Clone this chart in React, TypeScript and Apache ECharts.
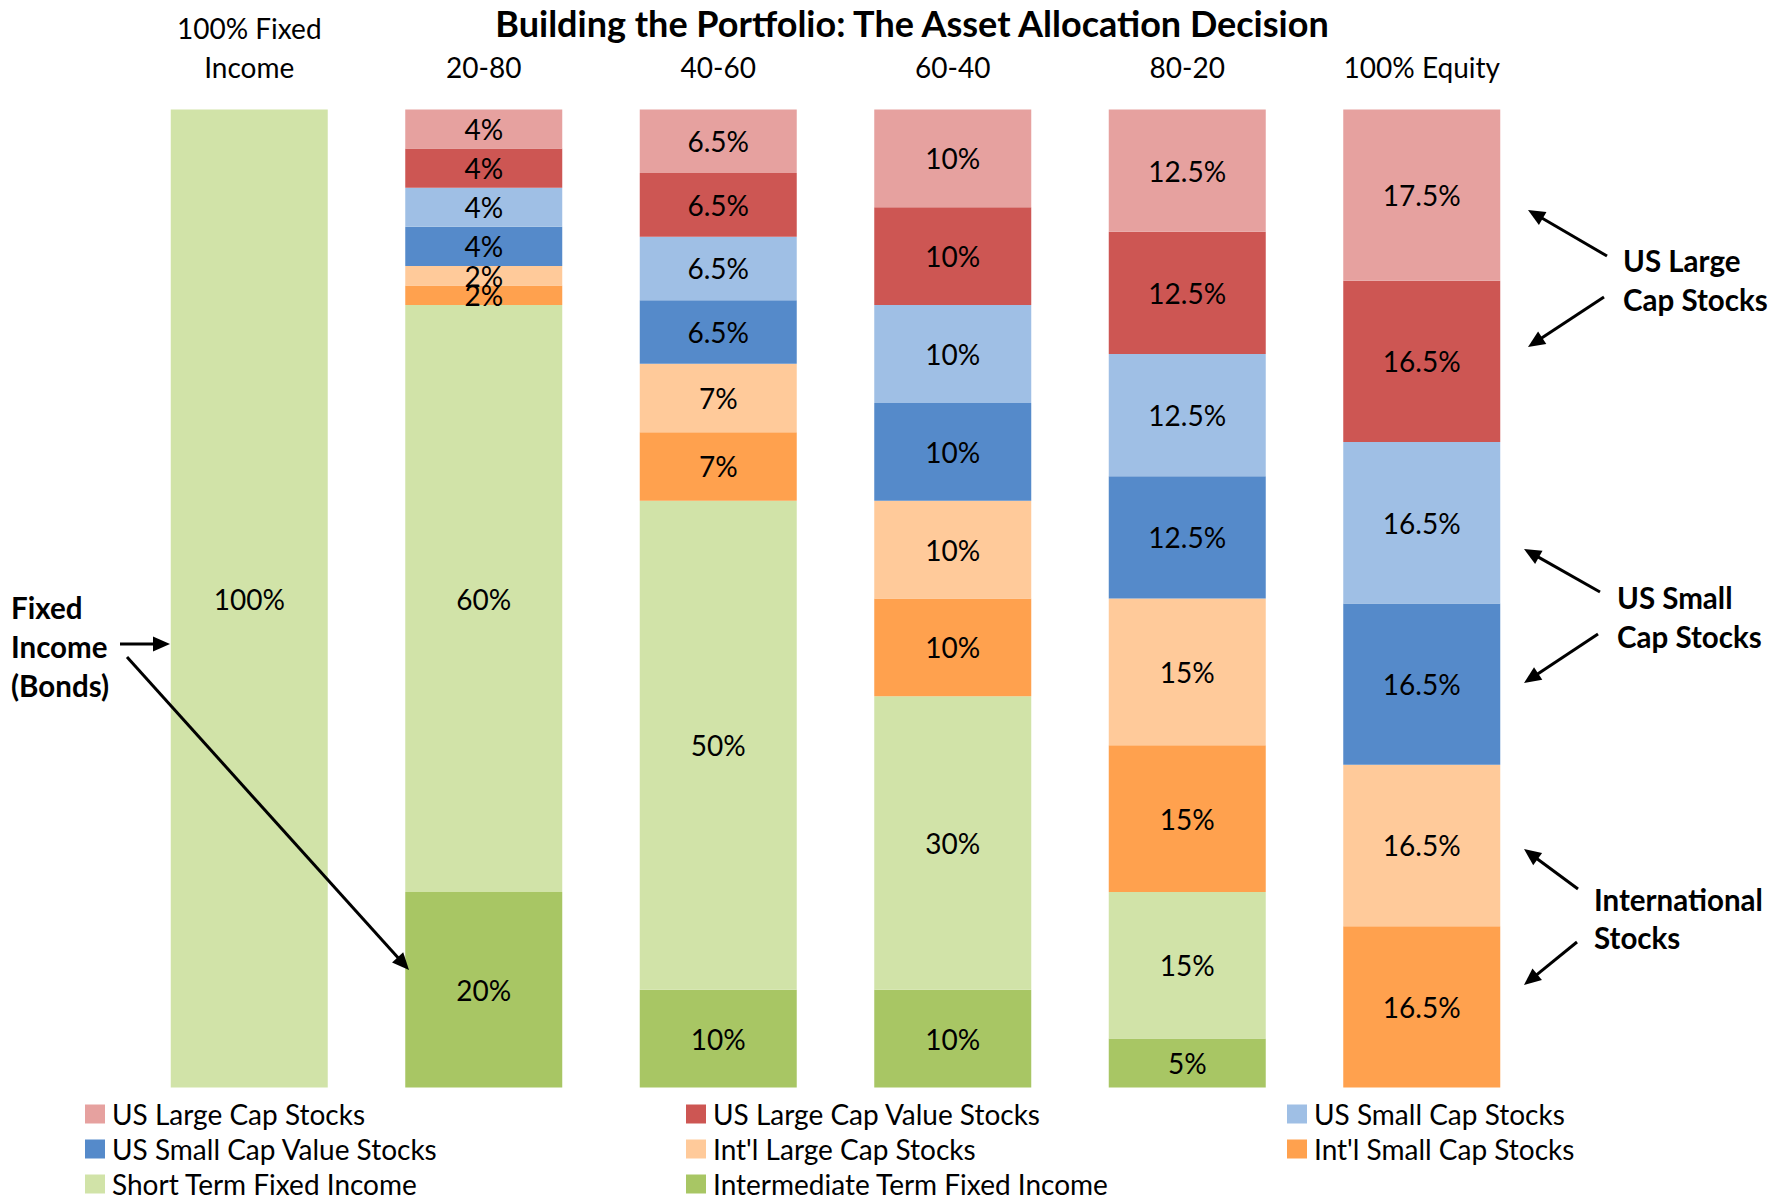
import React, { useEffect, useRef } from "react";
import * as echarts from "echarts";

const categories = ["100% Fixed\nIncome", "20-80", "40-60", "60-40", "80-20", "100% Equity"];

const seriesNames = [
  "Intermediate Term Fixed Income",
  "Short Term Fixed Income",
  "Int'l Small Cap Stocks",
  "Int'l Large Cap Stocks",
  "US Small Cap Value Stocks",
  "US Small Cap Stocks",
  "US Large Cap Value Stocks",
  "US Large Cap Stocks",
];

const intermediateFI = [null, 20, 10, 10, 5, null];
const shortFI = [100, 60, 50, 30, 15, null];
const intlSmall = [null, 2, 7, 10, 15, 16.5];
const intlLarge = [null, 2, 7, 10, 15, 16.5];
const usSmallValue = [null, 4, 6.5, 10, 12.5, 16.5];
const usSmall = [null, 4, 6.5, 10, 12.5, 16.5];
const usLargeValue = [null, 4, 6.5, 10, 12.5, 16.5];
const usLarge = [null, 4, 6.5, 10, 12.5, 17.5];

const seriesValues = [intermediateFI, shortFI, intlSmall, intlLarge, usSmallValue, usSmall, usLargeValue, usLarge];

const seriesColors = ["#A8C664", "#D1E3A8", "#FFA14E", "#FFCA9A", "#558ACA", "#9FBFE5", "#CD5653", "#E6A19F"];

const legendCol1 = ["US Large Cap Stocks", "US Small Cap Value Stocks", "Short Term Fixed Income"];
const legendCol2 = ["US Large Cap Value Stocks", "Int'l Large Cap Stocks", "Intermediate Term Fixed Income"];
const legendCol3 = ["US Small Cap Stocks", "Int'l Small Cap Stocks"];

const FONT = "Lato";

function arrow(x1: number, y1: number, x2: number, y2: number) {
  const dx = x2 - x1;
  const dy = y2 - y1;
  const len = Math.sqrt(dx * dx + dy * dy);
  const ux = dx / len;
  const uy = dy / len;
  const hl = 17;
  const hw = 7.5;
  const bx = x2 - ux * hl;
  const by = y2 - uy * hl;
  return [
    {
      type: "line",
      shape: { x1, y1, x2: bx + ux * 2, y2: by + uy * 2 },
      style: { stroke: "#000", lineWidth: 3 },
      z: 100,
    },
    {
      type: "polygon",
      shape: {
        points: [
          [x2, y2],
          [bx - uy * hw, by + ux * hw],
          [bx + uy * hw, by - ux * hw],
        ],
      },
      style: { fill: "#000" },
      z: 100,
    },
  ];
}

function boldText(text: string, x: number, y: number) {
  return {
    type: "text",
    x,
    y,
    style: {
      text,
      font: `bold 29.5px ${FONT}`,
      fill: "#000",
      textAlign: "left",
      textVerticalAlign: "middle",
    },
    z: 100,
  };
}

export default function App() {
  const ref = useRef<HTMLDivElement>(null);

  useEffect(() => {
    if (!ref.current) return;
    const chart = echarts.init(ref.current, null, { renderer: "svg" });

    const series = seriesNames.map((name, i) => ({
      name,
      type: "bar",
      stack: "total",
      barWidth: 157,
      data: seriesValues[i],
      itemStyle: { color: seriesColors[i] },
      label: {
        show: true,
        position: "inside",
        formatter: (p: any) => (p.value == null ? "" : `${p.value}%`),
        color: "#000",
        fontFamily: FONT,
        fontSize: 28,
      },
      emphasis: { disabled: true },
    }));

    const legendBase = {
      orient: "vertical",
      top: 1100,
      padding: 0,
      height: 110,
      itemWidth: 20,
      itemHeight: 19,
      itemGap: 7,
      icon: "rect",
      selectedMode: false,
      textStyle: { fontFamily: FONT, fontSize: 28, color: "#000", lineHeight: 28, padding: [0, 0, 0, 2] },
    };

    const graphic: any[] = [
      boldText("Fixed", 11, 607),
      boldText("Income", 11, 646),
      boldText("(Bonds)", 11, 685),
      ...arrow(120, 644, 170, 644),
      ...arrow(127, 657, 409, 970),
      boldText("US Large", 1623, 260),
      boldText("Cap Stocks", 1623, 299),
      ...arrow(1607, 256, 1528, 210),
      ...arrow(1604, 297, 1528, 347),
      boldText("US Small", 1617, 597),
      boldText("Cap Stocks", 1617, 636),
      ...arrow(1600, 592, 1524, 549),
      ...arrow(1598, 634, 1524, 683),
      boldText("International", 1594, 899),
      boldText("Stocks", 1594, 937),
      ...arrow(1578, 889, 1524, 849),
      ...arrow(1577, 942, 1524, 985),
    ];

    chart.setOption({
      animation: false,
      backgroundColor: "#fff",
      title: {
        text: "Building the Portfolio: The Asset Allocation Decision",
        left: 907,
        top: 0,
        textAlign: "center",
        textStyle: { fontFamily: FONT, fontWeight: "bold", fontSize: 36, color: "#000" },
      },
      grid: { left: 132, right: 232, top: 109.5, bottom: 115.5, containLabel: false },
      xAxis: {
        type: "category",
        position: "top",
        data: categories,
        axisLine: { show: false },
        axisTick: { show: false },
        axisLabel: {
          margin: 23.5,
          color: "#000",
          fontFamily: FONT,
          fontSize: 28,
          lineHeight: 39,
          interval: 0,
        },
      },
      yAxis: { type: "value", min: 0, max: 100, show: false },
      legend: [
        { ...legendBase, left: 85, data: legendCol1 },
        { ...legendBase, left: 686, data: legendCol2 },
        { ...legendBase, left: 1287, data: legendCol3 },
      ],
      series,
      graphic,
    });

    return () => chart.dispose();
  }, []);

  return <div ref={ref} style={{ position: "fixed", left: 0, top: 0, width: 1771, height: 1203 }} />;
}
